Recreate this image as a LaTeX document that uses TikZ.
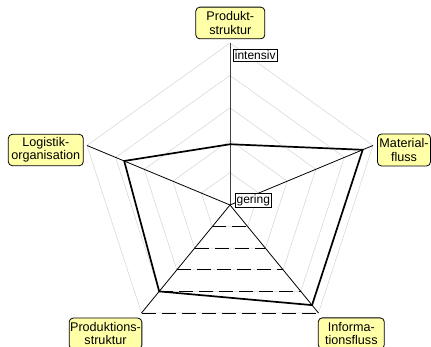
\documentclass[tikz,border=0pt]{standalone}
\usepackage{fontspec}
\setmainfont{Liberation Sans}
\usetikzlibrary{calc}
\definecolor{boxyellow}{HTML}{FFFFA8}
\definecolor{gridgray}{HTML}{D4D4D4}
\tikzset{
  catbox/.style={draw=black, line width=0.8pt, fill=boxyellow, rounded corners=4pt,
    align=center, inner sep=0pt, font=\fontsize{12.6}{13.4}\selectfont},
  scalebox/.style={draw=black, line width=0.6pt, fill=white, inner sep=1.3pt,
    font=\fontsize{12}{12.5}\selectfont},
  gridline/.style={draw=gridgray, line width=0.5pt},
  axisline/.style={draw=black, line width=0.8pt},
  dashedge/.style={draw=black, line width=0.9pt, dash pattern=on 14pt off 6pt},
  dataline/.style={draw=black, line width=1.7pt, line join=miter},
}
\begin{document}
\begin{tikzpicture}[x=1pt,y=-1pt]
\useasboundingbox (0,0) rectangle (431,347);

% centre and outer vertices of the pentagon
\coordinate (C)  at (230,205);
\coordinate (T)  at (230,43);
\coordinate (R)  at (373,145.5);
\coordinate (LR) at (318.5,313);
\coordinate (LL) at (141.5,313);
\coordinate (L)  at (87,145.5);

% concentric grid rings
\foreach \k in {1,...,5}{
  \draw[gridline] ($(C)!\k/5!(T)$) -- ($(C)!\k/5!(R)$) -- ($(C)!\k/5!(LR)$)
     -- ($(C)!\k/5!(LL)$) -- ($(C)!\k/5!(L)$) -- cycle;
}
% dashed lower edges of the rings
\foreach \k in {1,...,5}{
  \draw[dashedge] ($(C)!\k/5!(LL)$) -- ($(C)!\k/5!(LR)$);
}

% axes
\draw[axisline, draw=black!75] (C) -- (T);
\draw[axisline] (C) -- (R);
\draw[axisline] (C) -- (LR);
\draw[axisline] (C) -- (LL);
\draw[axisline] (C) -- (L);

% profile values
\coordinate (p1) at ($(C)!0.375!(T)$);
\coordinate (p2) at ($(C)!0.928!(R)$);
\coordinate (p3) at ($(C)!0.927!(LR)$);
\coordinate (p4) at ($(C)!0.80!(LL)$);
\coordinate (p5) at ($(C)!0.74!(L)$);
\draw[dataline] (p1) -- (p2) -- (p3) -- (p4) -- (p5) -- cycle;

% scale labels
\node[scalebox, anchor=north west] (hi) at (233.3,49.3) {intensiv};
\node[scalebox, anchor=north west] (lo) at (235,193.3) {gering};

% category labels
\node[catbox, minimum width=69pt, minimum height=31.7pt] (ps) at (230.3,23) {Produkt-\\struktur};
\node[catbox, minimum width=53pt, minimum height=32pt] (mf) at (404,150) {Material-\\fluss};
\node[catbox, minimum width=66pt, minimum height=31pt] (inf) at (351.3,333.4) {Informa-\\tionsfluss};
\node[catbox, minimum width=72.7pt, minimum height=31pt] (prs) at (105.5,333.6) {Produktions-\\struktur};
\node[catbox, minimum width=75pt, minimum height=31.4pt] (log) at (45.8,150) {Logistik-\\organisation};
\end{tikzpicture}
\end{document}
